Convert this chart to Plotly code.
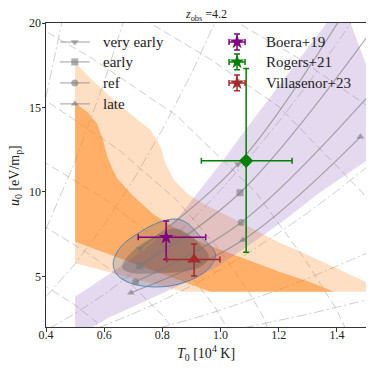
import plotly.graph_objects as go

# ---- data ----
# model tracks (T0 in 1e4 K, u0 in eV/m_p)
very_early_T = [0.722, 1.06, 1.46]
very_early_u = [6.63, 11.64, 21.6]
early_T = [0.722, 1.067, 1.53]
early_u = [5.63, 9.95, 19.8]
ref_T = [0.708, 1.071, 1.52]
ref_u = [4.68, 8.19, 15.9]
late_T = [0.692, 1.077, 1.481]
late_u = [4.03, 7.15, 13.26]

# observations
obs_names = ["Boera+19", "Rogers+21", "Villasenor+23"]
obs_T = [0.813, 1.088, 0.909]
obs_T_lo = [0.096, 0.154, 0.094]
obs_T_hi = [0.136, 0.158, 0.089]
obs_u = [7.31, 11.84, 6.0]
obs_u_lo = [1.31, 5.42, 0.98]
obs_u_hi = [0.96, 5.47, 0.91]
obs_colors = ["purple", "green", "brown"]
obs_symbols = ["star", "diamond", "triangle-up"]
obs_sizes = [11, 11, 12]

# orange posterior contours (outer / inner)
outer_T = [0.5, 0.502, 0.565, 0.634, 0.702, 0.76, 0.794, 0.811, 0.84, 0.886, 0.929,
           1.08, 1.204, 1.263, 1.5, 1.5, 0.874, 0.5]
outer_u = [17.6, 17.6, 16.52, 15.43, 14.45, 13.66, 12.67, 11.68, 10.7, 9.91, 9.41,
           8.1, 6.97, 6.56, 4.66, 4.08, 4.08, 5.77]
inner_T = [0.5, 0.502, 0.541, 0.575, 0.596, 0.61, 0.627, 0.644, 0.696, 0.768, 0.843,
           0.929, 1.067, 1.204, 1.307, 1.39, 0.966, 0.5]
inner_u = [15.24, 15.24, 14.74, 14.07, 13.07, 12.12, 11.41, 10.82, 9.81, 8.69, 7.86,
           7.05, 6.14, 5.25, 4.66, 4.08, 4.08, 7.05]

# purple band
band_up_T = [0.5, 0.622, 0.737, 0.80, 0.86, 0.93, 1.008, 1.085, 1.17, 1.26, 1.365, 1.42]
band_up_u = [3.79, 5.18, 6.56, 7.5, 8.6, 10.1, 11.84, 13.66, 15.6, 17.6, 20.0, 21.2]
band_lo_T = [1.6, 1.504, 1.332, 1.218, 1.103, 0.989, 0.874, 0.737, 0.622, 0.56, 0.5]
band_lo_u = [13.0, 11.88, 9.85, 8.3, 6.9, 5.57, 4.59, 3.5, 2.6, 2.0, 1.5]

# grey-blue contour around the data
ell_out_T = [0.631, 0.657, 0.725, 0.794, 0.851, 0.886, 0.932, 0.977, 0.983, 0.954,
             0.897, 0.829, 0.76, 0.691, 0.645]
ell_out_u = [5.77, 6.75, 7.64, 8.23, 8.39, 8.14, 7.34, 6.56, 6.16, 5.37,
             4.78, 4.44, 4.38, 4.59, 5.08]
ell_in_T = [0.662, 0.702, 0.771, 0.84, 0.886, 0.932, 0.96, 0.932, 0.863, 0.782, 0.702, 0.668]
ell_in_u = [5.67, 6.56, 7.34, 7.84, 7.54, 6.85, 6.16, 5.57, 5.27, 5.18, 5.18, 5.37]

# background guide lines
dashdot_T = [
    [0.4, 0.46],
    [0.4, 0.5, 0.6, 0.67],
    [0.4, 0.5, 0.6, 0.7, 0.8, 0.9, 0.99],
    [0.41, 0.5, 0.6, 0.7, 0.8, 0.9, 1.0, 1.1, 1.2, 1.3, 1.4, 1.46],
    [0.58, 0.7, 0.8, 0.9, 1.0, 1.1, 1.2, 1.3, 1.4, 1.5],
    [0.79, 0.9, 1.0, 1.1, 1.2, 1.3, 1.4, 1.5],
    [1.08, 1.2, 1.3, 1.4, 1.5],
]
dashdot_u = [
    [15.6, 20.5],
    [7.8, 11.8, 16.5, 20.3],
    [3.8, 5.74, 8.05, 10.7, 13.7, 17.0, 20.4],
    [1.9, 2.8, 3.93, 5.22, 6.68, 8.31, 10.1, 12.05, 14.15, 16.4, 18.8, 20.3],
    [1.95, 2.79, 3.57, 4.44, 5.4, 6.44, 7.57, 8.77, 10.06, 11.43],
    [1.95, 2.47, 3.0, 3.58, 4.2, 4.87, 5.59, 6.35],
    [1.95, 2.38, 2.76, 3.17, 3.6],
]
dashed_T = [
    [0.35, 0.4, 0.5, 0.58, 0.6],
    [0.35, 0.4, 0.55, 0.7, 0.8, 0.84],
    [0.35, 0.4, 0.6, 0.78, 0.9, 0.98, 1.02],
    [0.2, 0.4, 0.65, 0.85, 1.0, 1.1, 1.15, 1.17],
    [0.3, 0.55, 0.85, 1.12, 1.29, 1.40, 1.44],
    [0.70, 0.757, 0.964, 1.204, 1.489, 1.55],
    [1.0, 1.06, 1.27, 1.52],
]
dashed_u = [
    [4.9, 4.4, 3.3, 2.2, 1.8],
    [8.4, 7.9, 6.3, 4.4, 2.7, 1.8],
    [12.2, 11.7, 9.6, 7.2, 5.0, 3.2, 2.0],
    [17.5, 15.4, 12.5, 9.5, 6.5, 4.0, 2.5, 1.5],
    [20.5, 18.0, 14.5, 10.0, 6.0, 3.0, 1.5],
    [20.6, 20.0, 17.86, 15.0, 9.93, 8.0],
    [20.6, 20.0, 17.9, 14.9],
]

x_ticks = [0.4, 0.6, 0.8, 1.0, 1.2, 1.4]
y_ticks = [5, 10, 15, 20]

FONT = "Liberation Serif, DejaVu Serif, serif"
grid_col = "rgba(190,190,190,0.75)"
model_col = "rgba(120,120,120,0.6)"

fig = go.Figure()

for T, u in zip(dashed_T, dashed_u):
    fig.add_trace(go.Scatter(x=T, y=u, mode="lines", line=dict(color=grid_col, width=1, dash="8px,4px"),
                             hoverinfo="skip", showlegend=False))
for T, u in zip(dashdot_T, dashdot_u):
    fig.add_trace(go.Scatter(x=T, y=u, mode="lines", line=dict(color=grid_col, width=1, dash="10px,3px,2px,3px"),
                             hoverinfo="skip", showlegend=False))

fig.add_trace(go.Scatter(x=outer_T, y=outer_u, mode="lines", fill="toself",
                         fillcolor="rgba(255,127,14,0.25)", line=dict(width=0), showlegend=False))
fig.add_trace(go.Scatter(x=inner_T, y=inner_u, mode="lines", fill="toself",
                         fillcolor="rgba(255,127,14,0.5)", line=dict(width=0), showlegend=False))
fig.add_trace(go.Scatter(x=band_up_T + band_lo_T, y=band_up_u + band_lo_u, mode="lines", fill="toself",
                         fillcolor="rgba(148,103,189,0.25)", line=dict(width=0), showlegend=False))
fig.add_trace(go.Scatter(x=ell_out_T + ell_out_T[:1], y=ell_out_u + ell_out_u[:1], mode="lines", fill="toself",
                         fillcolor="rgba(90,90,110,0.24)", line=dict(color="rgba(70,130,180,0.9)", width=1, shape="spline"),
                         showlegend=False))
fig.add_trace(go.Scatter(x=ell_in_T + ell_in_T[:1], y=ell_in_u + ell_in_u[:1], mode="lines", fill="toself",
                         fillcolor="rgba(70,60,60,0.28)", line=dict(width=0, shape="spline"), showlegend=False))

models = [
    (very_early_T, very_early_u, "triangle-down"),
    (early_T, early_u, "square"),
    (ref_T, ref_u, "circle"),
    (late_T, late_u, "triangle-up"),
]
for T, u, sym in models:
    fig.add_trace(go.Scatter(x=T, y=u, mode="lines+markers",
                             line=dict(color=model_col, width=1.2, shape="spline"),
                             marker=dict(symbol=sym, size=7, color=model_col),
                             showlegend=False))

for i in range(len(obs_names)):
    fig.add_trace(go.Scatter(
        x=[obs_T[i]], y=[obs_u[i]], mode="markers",
        marker=dict(symbol=obs_symbols[i], size=obs_sizes[i], color=obs_colors[i]),
        error_x=dict(type="data", symmetric=False, array=[obs_T_hi[i]], arrayminus=[obs_T_lo[i]],
                     color=obs_colors[i], thickness=1.5, width=3),
        error_y=dict(type="data", symmetric=False, array=[obs_u_hi[i]], arrayminus=[obs_u_lo[i]],
                     color=obs_colors[i], thickness=1.5, width=3),
        showlegend=False))

# hand-made legend on an overlay axis (0..1 over the plot area)
model_names = ["very early", "early", "ref", "late"]
rows = [0.9375, 0.872, 0.803, 0.734]
for (T, u, sym), name, yy in zip(models, model_names, rows):
    fig.add_trace(go.Scatter(x=[0.044, 0.137], y=[yy, yy], xaxis="x2", yaxis="y2", mode="lines",
                             line=dict(color=model_col, width=1.2), showlegend=False, cliponaxis=False))
    fig.add_trace(go.Scatter(x=[0.09], y=[yy], xaxis="x2", yaxis="y2", mode="markers",
                             marker=dict(symbol=sym, size=7, color=model_col), showlegend=False, cliponaxis=False))
    fig.add_annotation(x=0.172, y=yy, xref="paper", yref="paper", text=name, showarrow=False,
                       xanchor="left", yanchor="middle", font=dict(family=FONT, size=15, color="#222"))
for i, name in enumerate(obs_names):
    yy = rows[i]
    fig.add_trace(go.Scatter(
        x=[0.597], y=[yy], xaxis="x2", yaxis="y2", mode="markers",
        marker=dict(symbol="star", size=11, color=obs_colors[i]),
        error_x=dict(type="constant", value=0.025, color=obs_colors[i], thickness=1.5, width=3),
        error_y=dict(type="constant", value=0.026, color=obs_colors[i], thickness=1.5, width=3),
        showlegend=False, cliponaxis=False))
    fig.add_annotation(x=0.681, y=yy, xref="paper", yref="paper", text=name, showarrow=False,
                       xanchor="left", yanchor="middle", font=dict(family=FONT, size=15, color="#222"))

# axis titles and panel title
fig.add_annotation(x=0.5, y=-0.087, xref="paper", yref="paper", text="<i>T</i><sub>0</sub> [10<sup>4</sup> K]",
                   showarrow=False, xanchor="center", yanchor="middle", font=dict(family=FONT, size=14, color="#222"))
fig.add_annotation(x=-0.097, y=0.5, xref="paper", yref="paper", text="<i>u</i><sub>0</sub> [eV/m<sub>p</sub>]",
                   showarrow=False, textangle=-90, xanchor="center", yanchor="middle",
                   font=dict(family=FONT, size=14, color="#222"))
fig.add_annotation(x=0.5, y=1.026, xref="paper", yref="paper", text="<i>z</i><sub>obs</sub> =4.2",
                   showarrow=False, xanchor="center", yanchor="middle", font=dict(family=FONT, size=12, color="#222"))

axis_common = dict(showgrid=False, zeroline=False, showline=True, mirror=True, linecolor="#333",
                   linewidth=1, ticks="outside", ticklen=3.5, tickcolor="#333",
                   tickfont=dict(family=FONT, size=12, color="#222"))
# the page adds an 8 px body margin, so the figure is drawn 8 px smaller and offset
fig.update_layout(
    width=366, height=366,
    margin=dict(l=38, r=8, t=15, b=47),
    plot_bgcolor="white", paper_bgcolor="white",
    xaxis=dict(range=[0.4, 1.5], tickvals=x_ticks, ticktext=[f"{v:.1f}" for v in x_ticks],
               ticklabelstandoff=-7, **axis_common),
    yaxis=dict(range=[2, 20], tickvals=y_ticks, ticklabelstandoff=-2, **axis_common),
    xaxis2=dict(overlaying="x", range=[0, 1], visible=False),
    yaxis2=dict(overlaying="y", range=[0, 1], visible=False),
    showlegend=False,
)

fig.write_html("out.html")
